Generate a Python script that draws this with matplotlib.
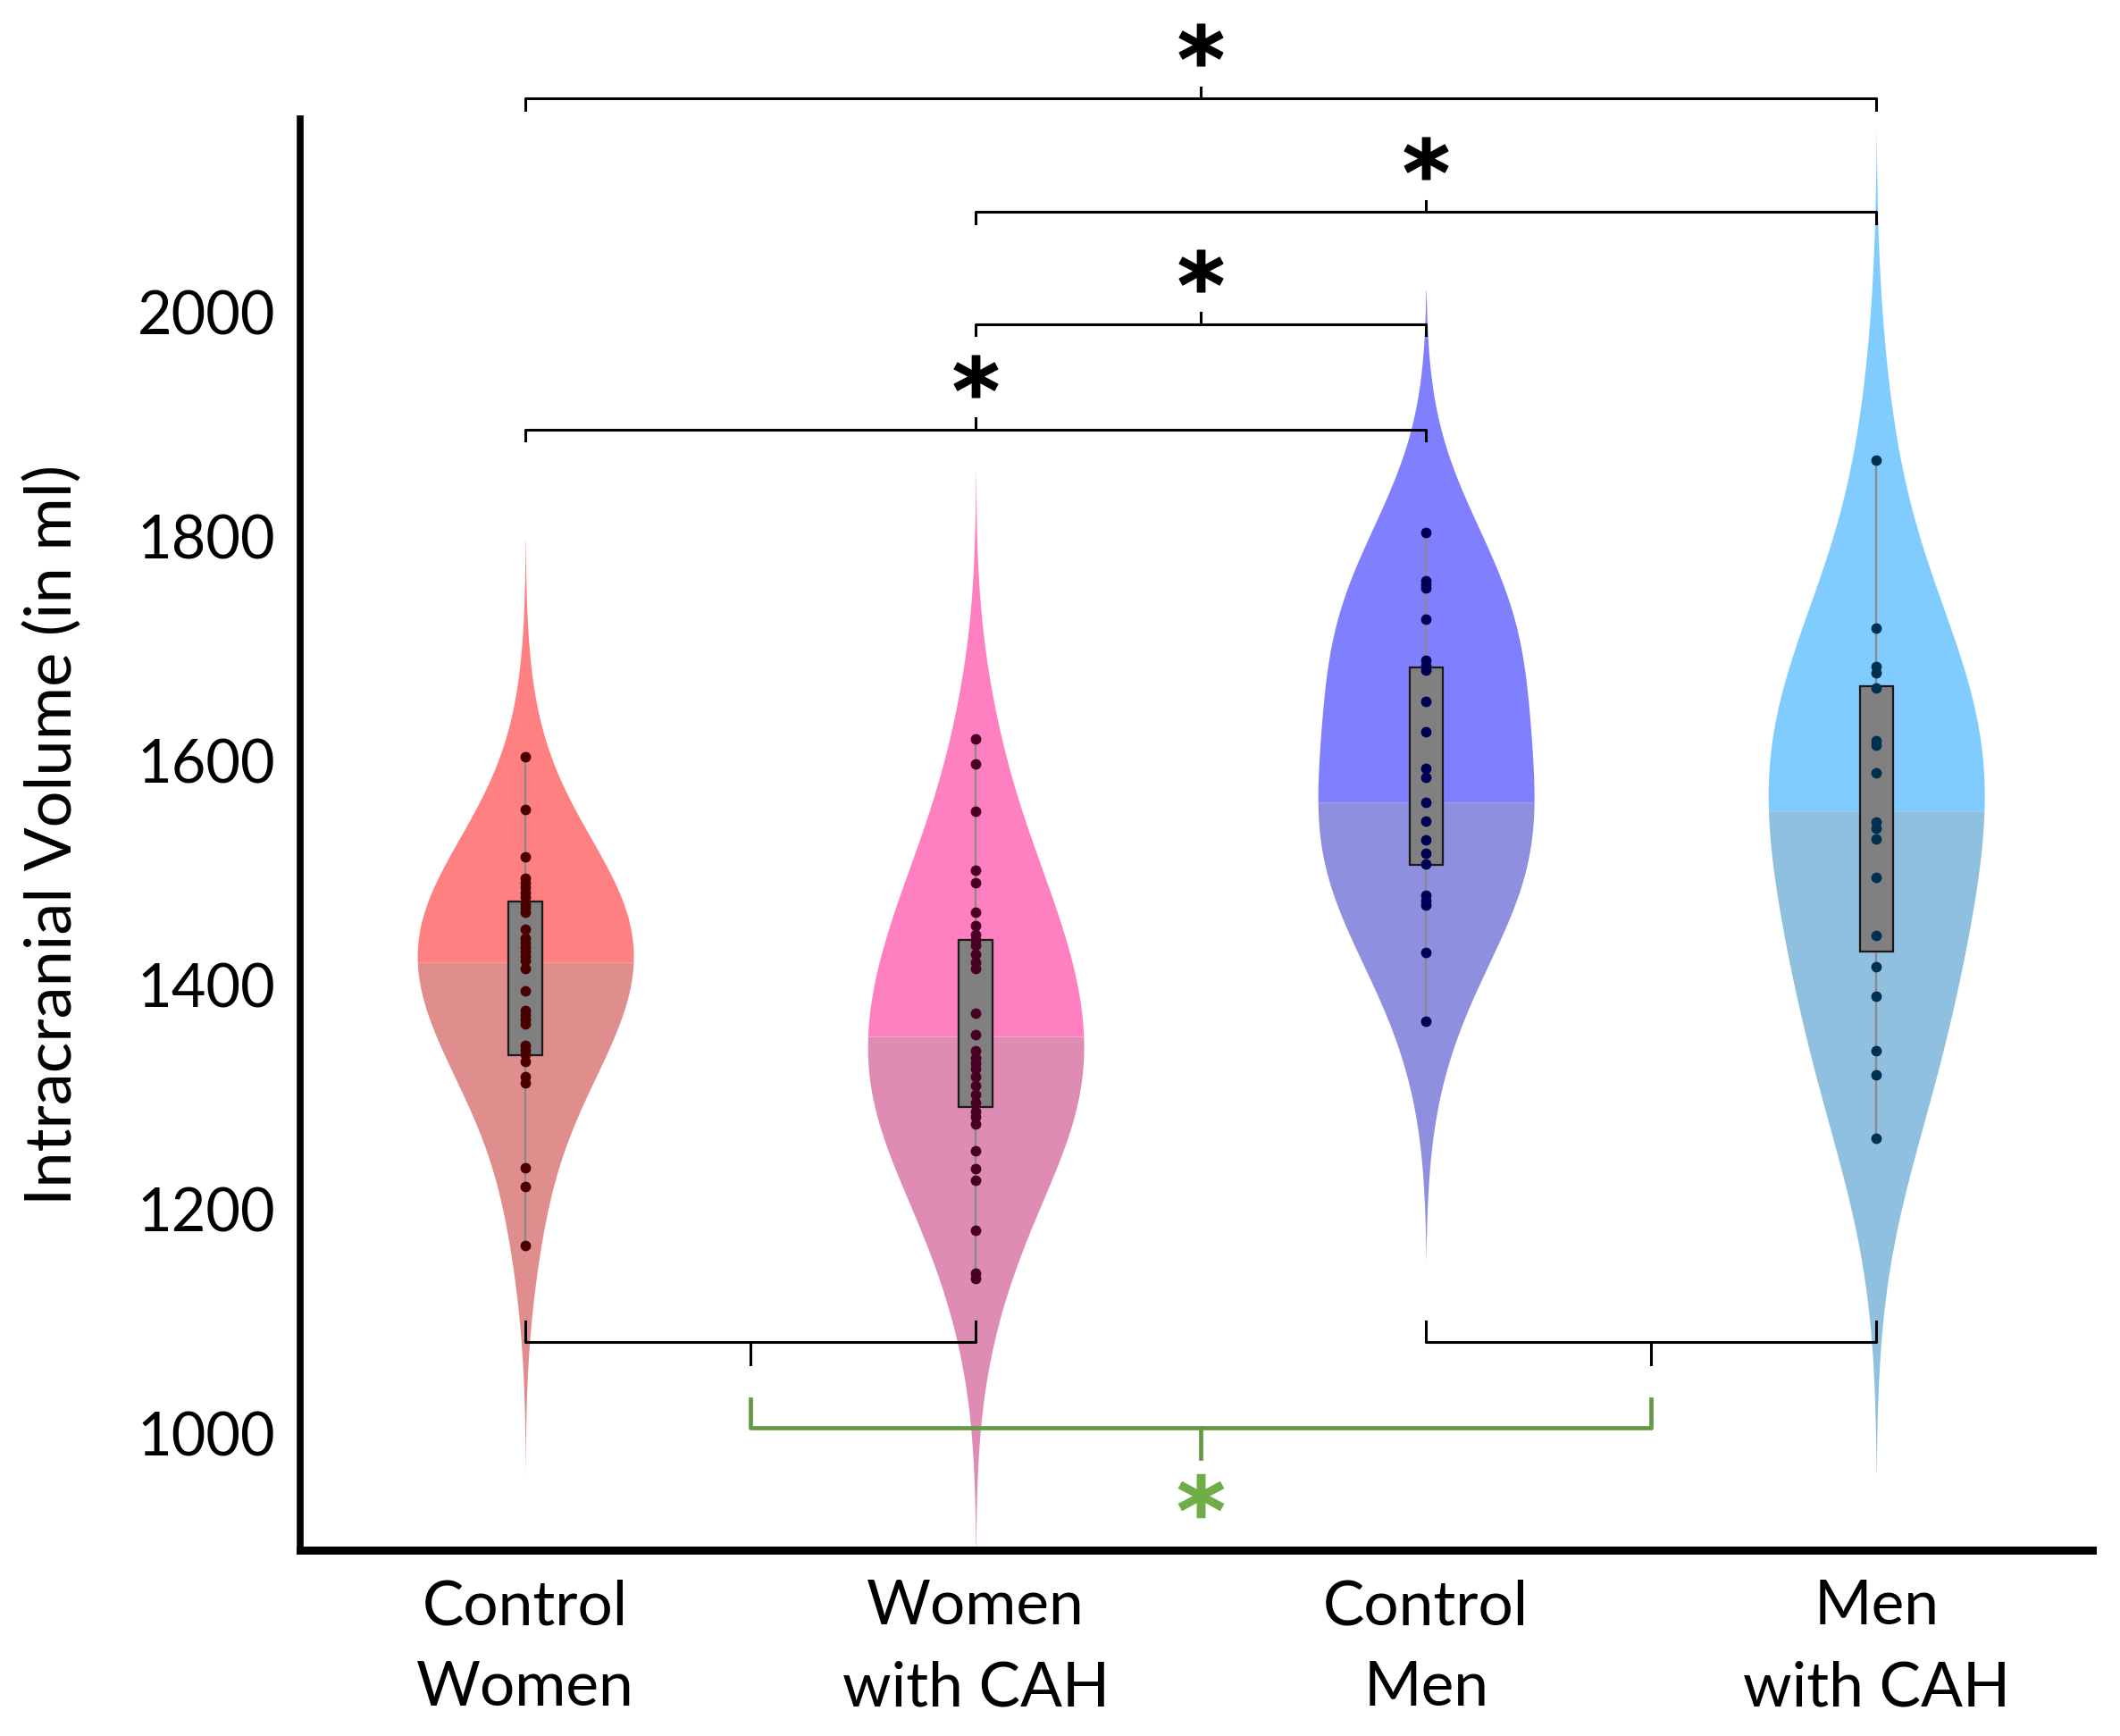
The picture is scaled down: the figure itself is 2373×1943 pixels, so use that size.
import numpy as np
import matplotlib
matplotlib.use("Agg")
import matplotlib.pyplot as plt
from matplotlib.patches import Rectangle

# ---------------- data ----------------
groups = ["Control\nWomen", "Women\nwith CAH", "Control\nMen", "Men\nwith CAH"]

control_women = [1603, 1556, 1514, 1495, 1491, 1487, 1482, 1478, 1472, 1469, 1465,
                 1450, 1442, 1438, 1434, 1430, 1426, 1422, 1415, 1395, 1377, 1373,
                 1369, 1365, 1346, 1342, 1338, 1332, 1318, 1313, 1237, 1220, 1168]
women_cah = [1619, 1597, 1555, 1502, 1491, 1465, 1453, 1445, 1440, 1435, 1427,
             1420, 1415, 1375, 1356, 1341, 1335, 1330, 1325, 1318, 1310, 1302,
             1295, 1287, 1282, 1276, 1252, 1236, 1226, 1181, 1143, 1138]
control_men = [1803, 1760, 1757, 1754, 1726, 1689, 1685, 1681, 1653, 1626, 1593,
               1585, 1563, 1546, 1529, 1517, 1508, 1480, 1475, 1471, 1429, 1368]
men_cah = [1868, 1718, 1684, 1678, 1665, 1618, 1614, 1589, 1545, 1540, 1530,
           1496, 1444, 1416, 1390, 1341, 1320, 1263]
all_data = [control_women, women_cah, control_men, men_cah]

kde_bandwidth = [76, 88, 84, 112]
violin_min = [960, 880, 1152, 965]
violin_max = [1796, 1857, 2019, 2166]
split_values = [1420, 1354, 1563, 1555]
box_q1 = [1337, 1291, 1507, 1430]
box_q3 = [1474, 1440, 1683, 1666]

top_colors = ["#FF8080", "#FF80C0", "#8080FF", "#80CCFF"]
bottom_colors = ["#E08D8D", "#DE8CB4", "#8F8FE0", "#8FC0E0"]
dot_colors = ["#4A0000", "#4A0024", "#000055", "#00304F"]

yticks = [1000, 1200, 1400, 1600, 1800, 2000]

# significance brackets above (group i, group j, level)
top_pairs = [(1, 4), (2, 4), (2, 3), (1, 3)]
top_levels = [2190, 2089, 1989, 1895]
# lower brackets joining groups and a comparison between the two pairs
low_pairs = [(1, 2), (3, 4)]
low_level = 1082
green_level = 1005
green_star_y = 945

# ---------------- figure ----------------
plt.rcParams["font.family"] = ["Lato", "DejaVu Sans"]
fig = plt.figure(figsize=(23.73, 19.43), dpi=100)
ax = fig.add_axes([0.1416, 0.107, 0.8454, 0.8245])

positions = np.arange(1, len(groups) + 1)
half_width = 0.24

for i, data in enumerate(all_data):
    d = np.asarray(data, dtype=float)
    bw = kde_bandwidth[i]
    grid = np.linspace(violin_min[i], violin_max[i], 600)
    dens = np.exp(-0.5 * ((grid[None, :] - d[:, None]) / bw) ** 2).sum(axis=0)
    dens = dens - dens.min()
    w = dens / dens.max() * half_width
    x0 = positions[i]
    s = split_values[i]
    lo = grid <= s
    hi = grid >= s
    ws = np.interp(s, grid, w)
    g_lo = np.append(grid[lo], s)
    w_lo = np.append(w[lo], ws)
    g_hi = np.insert(grid[hi], 0, s)
    w_hi = np.insert(w[hi], 0, ws)
    ax.fill_betweenx(g_lo, x0 - w_lo, x0 + w_lo, color=bottom_colors[i], lw=0, zorder=1)
    ax.fill_betweenx(g_hi, x0 - w_hi, x0 + w_hi, color=top_colors[i], lw=0, zorder=1)

    # whisker
    ax.plot([x0, x0], [d.min(), d.max()], color="#8A8A8A", lw=1.7, zorder=2,
            solid_capstyle="butt")
    # box
    bw_box = 0.037
    ax.add_patch(Rectangle((x0 - bw_box, box_q1[i]), 2 * bw_box, box_q3[i] - box_q1[i],
                           facecolor="#808080", edgecolor="#1A1A1A", lw=1.6, zorder=3))
    # points
    ax.plot(np.full(len(d), x0), d, ls="none", marker="o", ms=7.5,
            color=dot_colors[i], mec=dot_colors[i], zorder=4)


def bracket(x1, x2, y, end_dy, mid_dy, color, lw):
    xm = (x1 + x2) / 2
    ax.plot([x1, x1, x2, x2], [y + end_dy, y, y, y + end_dy], color=color, lw=lw,
            clip_on=False, zorder=5, solid_joinstyle="round")
    ax.plot([xm, xm], [y, y + mid_dy], color=color, lw=lw, clip_on=False, zorder=5)
    return xm


star_marker = r"$\mathbf{*}$"
for (a, b), lvl in zip(top_pairs, top_levels):
    xm = bracket(a, b, lvl, -10, 10, "black", 2.2)
    ax.plot([xm], [lvl + 48], ls="none", marker=star_marker, ms=35, color="black",
            clip_on=False, zorder=6)

mids = []
for a, b in low_pairs:
    mids.append(bracket(a, b, low_level, 18, -20, "black", 2.2))

gm = bracket(mids[0], mids[1], green_level, 26, -27, "#649A44", 3.4)
ax.plot([gm], [green_star_y], ls="none", marker=star_marker, ms=36, color="#70AD47",
        clip_on=False, zorder=6)

# ---------------- axes styling ----------------
ax.set_xlim(0.5, 4.48)
ax.set_ylim(896, 2172)
ax.set_yticks(yticks)
ax.set_yticklabels([str(t) for t in yticks], fontsize=48)
ax.set_xticks(positions)
ax.set_xticklabels(groups, linespacing=1.55, fontsize=50)
ax.tick_params(axis="both", length=0)
ax.tick_params(axis="y", pad=20)
ax.tick_params(axis="x", pad=23)

for sp in ["top", "right"]:
    ax.spines[sp].set_visible(False)
ax.spines["left"].set_linewidth(5.5)
ax.spines["bottom"].set_linewidth(6.5)
ax.spines["left"].set_capstyle("projecting")
ax.spines["bottom"].set_capstyle("projecting")

ax.set_ylabel("Intracranial Volume (in ml)", fontsize=52, va="center")
ax.yaxis.set_label_coords(-0.138, 0.5)

fig.savefig("out.png", dpi=100, facecolor="white")
